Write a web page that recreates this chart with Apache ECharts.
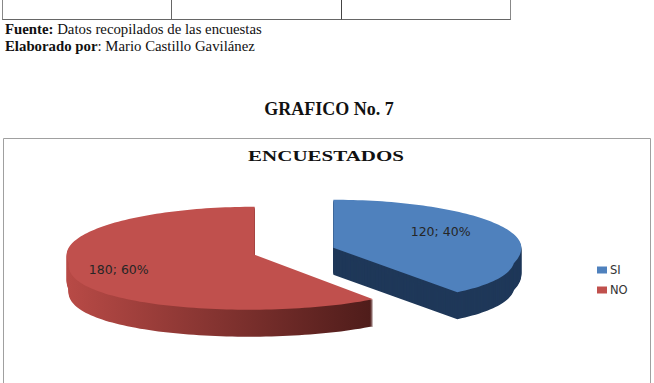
<!DOCTYPE html>
<html>
<head>
<meta charset="utf-8">
<script src="https://cdn.jsdelivr.net/npm/echarts@6/dist/echarts.min.js"></script>
<style>
html,body{margin:0;padding:0;background:#fff;}
#chart{width:654px;height:383px;}
</style>
</head>
<body>
<div id="chart"></div>
<script>
// ---- data ----
const categories = ['SI', 'NO'];
const values = [120, 180];

// ---- style / layout (not data) ----
const topColors = ['#4F81BD', '#C0504D'];
const sideColors = [
  '#1F3859',
  { type: 'linear', x: 0, y: 0, x2: 1, y2: 0, colorStops: [{ offset: 0, color: '#B84A46' }, { offset: 1, color: '#4E1C1A' }] }
];
const labelR = [0.6, 0.76];
const labelDy = [-7, 2];
const PIE = { cx: 294, cy: 251, rx: 188, ryTop: 48, ryBot: 55, depth: 27, explode: 0.22, persp: 0.17, perspY: 263 };

const total = values.reduce((a, b) => a + b, 0);
const starts = [];
values.reduce((acc, v, i) => { starts[i] = acc; return acc + v; }, 0);

function ellPt(cx, cy, deg, k) {
  const r = deg * Math.PI / 180;
  const s = Math.sin(r), c = Math.cos(r);
  const ry = c > 0 ? PIE.ryTop : PIE.ryBot;
  return [cx + PIE.rx * s * k, cy - ry * c * k];
}
function persp(p) {
  const dy = p[1] - PIE.perspY;
  if (dy <= 0) return p;
  return [PIE.cx + (p[0] - PIE.cx) * (1 + PIE.persp * dy / PIE.ryBot), p[1]];
}

function renderSlice(idx) {
  return function (params, api) {
    const v = api.value(0), st = api.value(1), tot = api.value(2);
    const a0 = st / tot * 360, a1 = (st + v) / tot * 360;
    const mid = (a0 + a1) / 2;
    const off = ellPt(0, 0, mid, PIE.explode);
    const ax = PIE.cx + off[0], ay = PIE.cy + off[1];
    const pts = [persp([ax, ay])];
    const n = Math.max(8, Math.ceil((a1 - a0) / 1.5));
    for (let j = 0; j <= n; j++) pts.push(persp(ellPt(ax, ay, a0 + (a1 - a0) * j / n, 1)));
    const children = [];
    for (let d = PIE.depth; d >= 1; d--) {
      children.push({
        type: 'polygon',
        shape: { points: pts.map(p => [p[0], p[1] + d]) },
        style: { fill: sideColors[idx] }
      });
    }
    children.push({ type: 'polygon', shape: { points: pts }, style: { fill: topColors[idx] } });
    const lp = ellPt(ax, ay, mid, labelR[idx]);
    children.push({
      type: 'text',
      x: lp[0], y: lp[1] + labelDy[idx],
      style: {
        text: v + '; ' + Math.round(v / tot * 100) + '%',
        fill: '#262626',
        fontFamily: 'DejaVu Sans',
        fontSize: 12.5,
        align: 'center',
        verticalAlign: 'middle'
      }
    });
    return { type: 'group', children: children };
  };
}

const chart = echarts.init(document.getElementById('chart'), null, { renderer: 'svg' });

const series = categories.map((name, i) => ({
  type: 'custom',
  name: name,
  coordinateSystem: 'none',
  silent: true,
  itemStyle: { color: topColors[i] },
  data: [[values[i], starts[i], total]],
  renderItem: renderSlice(i)
}));

const FS = 14.8;
const docText = { fontFamily: 'Liberation Serif', fontSize: FS, fill: '#111', verticalAlign: 'middle' };
const docRich = {
  b: { fontWeight: 'bold', fontFamily: 'Liberation Serif', fontSize: FS, fill: '#111' },
  n: { fontFamily: 'Liberation Serif', fontSize: FS, fill: '#111' }
};

chart.setOption({
  animation: false,
  backgroundColor: '#ffffff',
  legend: {
    orient: 'vertical',
    left: 592,
    top: 258,
    icon: 'rect',
    itemWidth: 10,
    itemHeight: 7,
    itemGap: 6,
    textStyle: { fontFamily: 'DejaVu Sans', fontSize: 11.5, color: '#333', lineHeight: 14, padding: [0, 0, 0, -2] },
    data: categories
  },
  graphic: [
    // table remnant at the top of the page
    { type: 'line', shape: { x1: 2, y1: 19.5, x2: 511, y2: 19.5 }, style: { stroke: '#666', lineWidth: 1 } },
    { type: 'line', shape: { x1: 2.5, y1: 0, x2: 2.5, y2: 19.5 }, style: { stroke: '#888', lineWidth: 1 } },
    { type: 'line', shape: { x1: 171.5, y1: 0, x2: 171.5, y2: 19.5 }, style: { stroke: '#666', lineWidth: 1 } },
    { type: 'line', shape: { x1: 341.5, y1: 0, x2: 341.5, y2: 19.5 }, style: { stroke: '#444', lineWidth: 1 } },
    { type: 'line', shape: { x1: 510.5, y1: 0, x2: 510.5, y2: 19.5 }, style: { stroke: '#888', lineWidth: 1 } },
    {
      type: 'text', x: 5, y: 29,
      style: Object.assign({}, docText, { text: '{b|Fuente:}{n| Datos recopilados de las encuestas}', rich: docRich })
    },
    {
      type: 'text', x: 5, y: 46,
      style: Object.assign({}, docText, { text: '{b|Elaborado por}{n|: Mario Castillo Gavilánez}', rich: docRich })
    },
    {
      type: 'text', x: 329, y: 109,
      style: { text: 'GRAFICO No. 7', fontFamily: 'Liberation Serif', fontWeight: 'bold', fontSize: 18, fill: '#111', align: 'center', verticalAlign: 'middle' }
    },
    // chart frame
    { type: 'rect', shape: { x: 3.5, y: 138.5, width: 647, height: 260 }, style: { fill: 'none', stroke: '#a0a0a0', lineWidth: 1 }, z: -1 },
    {
      type: 'text', x: 326, y: 156, scaleX: 1.5,
      style: { text: 'ENCUESTADOS', fontFamily: 'Liberation Serif', fontWeight: 'bold', fontSize: 14, fill: '#111', align: 'center', verticalAlign: 'middle' }
    }
  ],
  series: series
});
</script>
</body>
</html>
